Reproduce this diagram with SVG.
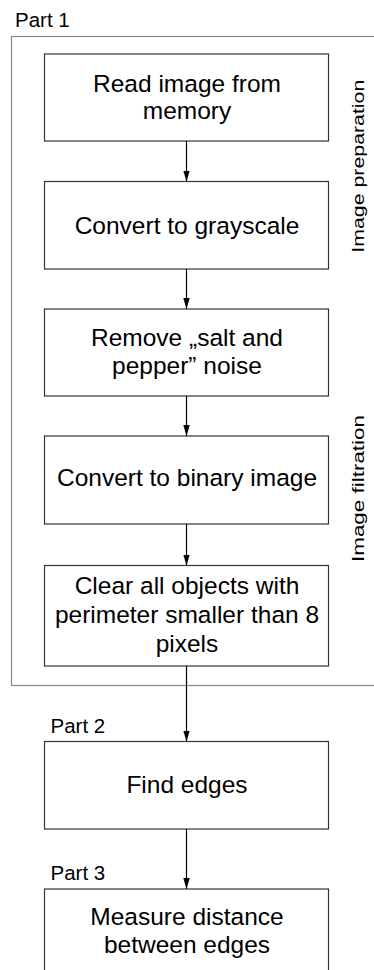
<svg xmlns="http://www.w3.org/2000/svg" width="374" height="970" viewBox="0 0 374 970">
<style>
  .box { fill: #fff; stroke: #333; stroke-width: 1.2; }
  .frame { fill: none; stroke: #888; stroke-width: 1.2; }
  .t { font-family: "Liberation Sans", Arial, sans-serif; font-size: 24.5px; fill: #000; text-anchor: middle; }
  .lbl { font-family: "Liberation Sans", Arial, sans-serif; font-size: 20.5px; fill: #000; }
  .vl { font-family: "Liberation Sans", Arial, sans-serif; font-size: 16px; fill: #000; }
  .conn line { stroke: #000; stroke-width: 1.2; marker-end: url(#ah); }
</style>
<defs>
  <marker id="ah" markerUnits="userSpaceOnUse" markerWidth="11" markerHeight="17" refX="17" refY="5" orient="auto" viewBox="0 0 17 10">
    <path d="M0,0 L17,5 L0,10 Z" fill="#000"/>
  </marker>
</defs>
<rect width="374" height="970" fill="#fff"/>
<g id="part1">
  <rect class="frame" x="11.5" y="36.5" width="400" height="649"/>
  <text class="lbl" x="15" y="27">Part 1</text>
  <text class="vl" transform="translate(364,252.7) rotate(-90)" textLength="173" lengthAdjust="spacingAndGlyphs">Image preparation</text>
  <text class="vl" transform="translate(364,562) rotate(-90)" textLength="147" lengthAdjust="spacingAndGlyphs">Image filtration</text>
</g>
<g id="n1">
  <rect class="box" x="44.5" y="54" width="284" height="87"/>
  <text class="t" x="187" y="91.5">Read image from</text>
  <text class="t" x="187" y="118.5">memory</text>
</g>
<g id="n2">
  <rect class="box" x="44.5" y="181.5" width="284" height="87.5"/>
  <text class="t" x="187" y="233.5">Convert to grayscale</text>
</g>
<g id="n3">
  <rect class="box" x="44.5" y="309" width="284" height="87"/>
  <text class="t" x="187" y="345.5">Remove „salt and</text>
  <text class="t" x="187" y="374">pepper” noise</text>
</g>
<g id="n4">
  <rect class="box" x="44.5" y="436" width="284" height="88"/>
  <text class="t" x="187" y="486">Convert to binary image</text>
</g>
<g id="n5">
  <rect class="box" x="44.5" y="565.5" width="284" height="100.5"/>
  <text class="t" x="187" y="593.5">Clear all objects with</text>
  <text class="t" x="187" y="623">perimeter smaller than 8</text>
  <text class="t" x="187" y="651.5">pixels</text>
</g>
<g id="n6">
  <text class="lbl" x="50.5" y="733">Part 2</text>
  <rect class="box" x="44.5" y="741.5" width="284" height="87.5"/>
  <text class="t" x="187" y="792.5">Find edges</text>
</g>
<g id="n7">
  <text class="lbl" x="50.5" y="880">Part 3</text>
  <rect class="box" x="44.5" y="889" width="284" height="95"/>
  <text class="t" x="187" y="925">Measure distance</text>
  <text class="t" x="187" y="953">between edges</text>
</g>
<g id="connectors" class="conn">
  <line x1="186.5" y1="141" x2="186.5" y2="181.5"/>
  <line x1="186.5" y1="269" x2="186.5" y2="309"/>
  <line x1="186.5" y1="396" x2="186.5" y2="436"/>
  <line x1="186.5" y1="524" x2="186.5" y2="565.5"/>
  <line x1="186.5" y1="666" x2="186.5" y2="741.5"/>
  <line x1="186.5" y1="829" x2="186.5" y2="889"/>
</g>
</svg>
